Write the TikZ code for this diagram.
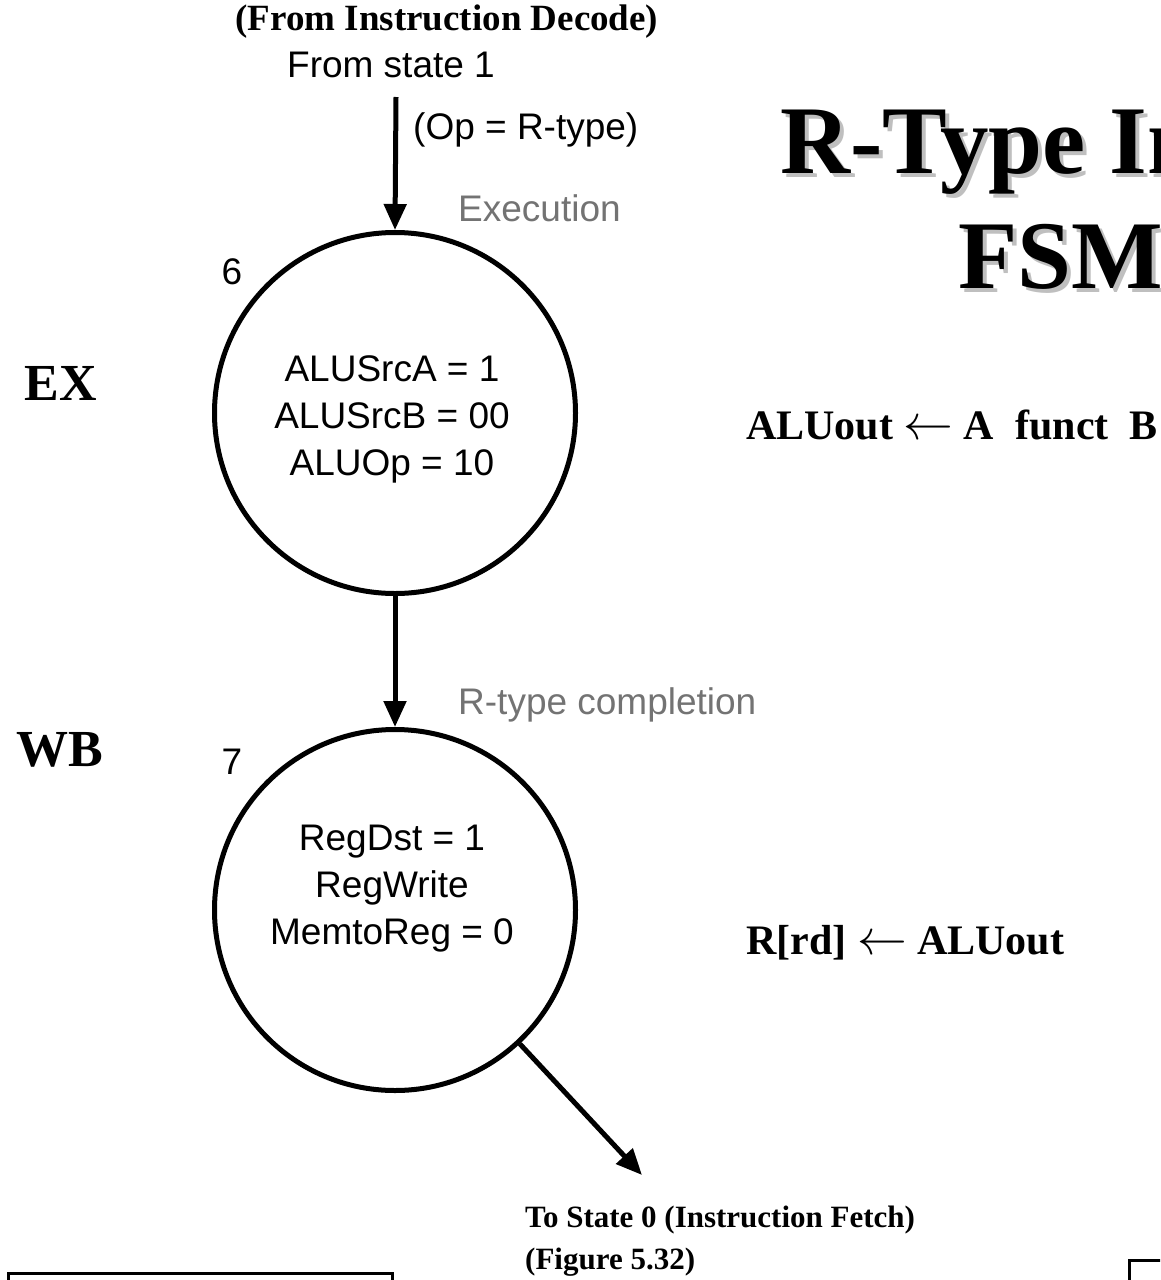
\documentclass[tikz,border=0pt]{standalone}
\usepackage{fontspec}
\setmainfont{Liberation Serif}
\setsansfont{Liberation Sans}
\usetikzlibrary{arrows.meta}

\newcommand{\getsarrow}{\scalebox{2}{$\leftarrow$}}

\begin{document}
\begin{tikzpicture}
  [x=1pt, y=-1pt]
  \tikzstyle{state} = [draw=black, circle, line width=5pt, minimum size=361pt, inner sep=0pt];
  \tikzstyle{acts}  = [align=center, inner sep=0pt, font=\sffamily\fontsize{37}{47}\selectfont];
  \tikzstyle{sans}  = [inner sep=0pt, font=\sffamily\fontsize{37}{44}\selectfont];
  \tikzstyle{phase} = [sans, text=black!55];
  \tikzstyle{bold}  = [inner sep=0pt, font=\bfseries\fontsize{31}{42}\selectfont];
  \tikzstyle{rtl}   = [inner sep=0pt, font=\bfseries\fontsize{42}{50}\selectfont];
  \tikzstyle{stage} = [inner sep=0pt, font=\bfseries\fontsize{52}{60}\selectfont];
  \tikzstyle{title} = [inner sep=0pt, font=\bfseries\fontsize{97}{110}\selectfont];
  \tikzstyle{trans} = [line width=5pt, -{Triangle[width=22pt, length=26pt]}];

  \clip (0, 0) rectangle (1160, 1280);

  % title, with its shadow
  \node[title, text=black!25, anchor=base west] at (784, 177) {R-Type In};
  \node[title, text=black!25, anchor=base west] at (962, 292) {FSM};
  \node[title, anchor=base west] (title1) at (780, 173) {R-Type In};
  \node[title, anchor=base west] (title2) at (958, 288) {FSM};

  \node[bold, font=\bfseries\fontsize{37}{44}\selectfont] (decode) at (447, 22) {(From Instruction Decode)};
  \node[sans] (from) at (391, 65) {From state 1};
  \coordinate (in) at (396, 97);

  \node[state] (s6) at (395, 413) {};
  \node[state] (s7) at (395, 910) {};

  \node[sans] (n6) at (232, 272) {6};
  \node[sans] (n7) at (232, 762) {7};

  \node[acts] (a6) at (392, 419) {ALUSrcA = 1\\ALUSrcB = 00\\ALUOp = 10};
  \node[acts] (a7) at (392, 889) {RegDst = 1\\RegWrite\\MemtoReg = 0};

  \node[sans, anchor=west] (op) at (413, 130) {(Op = R-type)};
  \node[phase, anchor=west] (exec) at (458, 208) {Execution};
  \node[phase, anchor=west] (done) at (458, 705) {R-type completion};

  \node[stage] (ex) at (61, 383) {EX};
  \node[stage] (wb) at (60, 750) {WB};

  \node[rtl, anchor=west] (alu) at (746, 425) {ALUout \getsarrow\ A\ \ funct\ \ B};
  \node[rtl, anchor=west] (reg) at (746, 943) {R[rd] \getsarrow\ ALUout};

  \coordinate (fetch) at (642, 1175);
  \node[bold, align=left, anchor=west] (next) at (525, 1241) {To State 0 (Instruction Fetch)\\(Figure 5.32)};

  \draw[trans] (in) -- (s6.north);
  \draw[trans] (s6.south) -- (s7.north);
  \draw[trans] (s7.-47) -- (fetch);

  % boxes cut by the page edge
  \draw[line width=3pt] (8, 1273) rectangle (392, 1320);
  \draw[line width=3pt] (1129, 1260) rectangle (1220, 1320);
\end{tikzpicture}
\end{document}
